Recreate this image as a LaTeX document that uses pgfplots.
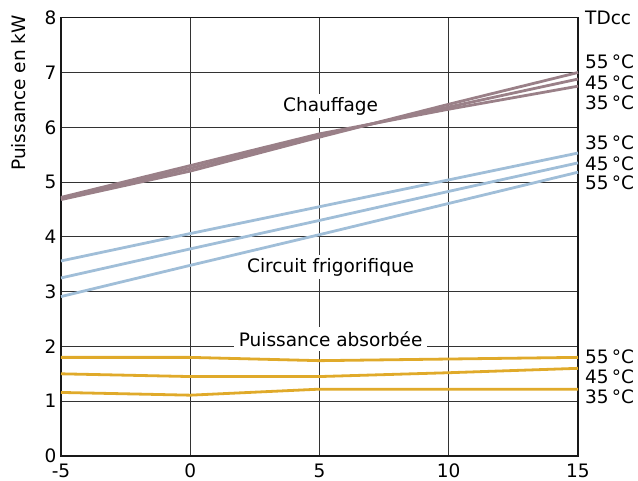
\documentclass[border=0pt]{standalone}
\usepackage{fontspec}
\setmainfont{DejaVu Sans}
\usepackage{pgfplots}
\pgfplotsset{compat=1.18}
\definecolor{heat}{HTML}{9A8088}
\definecolor{cool}{HTML}{A0BED8}
\definecolor{pow}{HTML}{E0AA2A}
\begin{document}
\begin{tikzpicture}
\begin{axis}[
  scale only axis, width=517pt, height=438.3pt,
  xmin=-5, xmax=15, ymin=0, ymax=8,
  xtick={-5,0,5,10,15}, ytick={0,1,...,8},
  grid=major,
  major grid style={black!80, line width=0.8pt},
  axis line style={black!90, line width=1.3pt},
  major tick length=0pt,
  clip=false,
  font=\fontsize{18.5}{22}\selectfont,
  /pgf/number format/assume math mode=true,
  xticklabel style={yshift=-4pt},
  yticklabel style={xshift=-1pt},
  every axis plot/.append style={line width=2.8pt, line join=round},
]
\coordinate (SW) at (rel axis cs:0,0);
\node[xshift=-42pt, rotate=90] at (rel axis cs:0,0.828) {Puissance en kW};
% labels with white background
\node[fill=white, inner xsep=5pt, inner ysep=3pt] at (axis cs:5.43,6.39) {Chauffage};
\node[fill=white, inner xsep=5pt, inner ysep=3pt] at (axis cs:5.43,3.45) {Circuit frigorifique};
\node[fill=white, inner xsep=5pt, inner ysep=4pt] at (axis cs:5.43,2.135) {Puissance absorbée};
% heating
\addplot[heat] coordinates {(-5,4.72) (0,5.30) (5,5.88) (10,6.33) (15,6.75)};
\addplot[heat] coordinates {(-5,4.70) (0,5.25) (5,5.85) (10,6.37) (15,6.88)};
\addplot[heat] coordinates {(-5,4.68) (0,5.20) (5,5.82) (10,6.42) (15,7.00)};
% cooling circuit
\addplot[cool] coordinates {(-5,3.56) (0,4.06) (5,4.55) (10,5.04) (15,5.53)};
\addplot[cool] coordinates {(-5,3.25) (0,3.78) (5,4.30) (10,4.83) (15,5.35)};
\addplot[cool] coordinates {(-5,2.91) (0,3.48) (5,4.04) (10,4.61) (15,5.18)};
% absorbed power
\addplot[pow] coordinates {(-5,1.80) (0,1.80) (5,1.74) (10,1.77) (15,1.80)};
\addplot[pow] coordinates {(-5,1.50) (0,1.45) (5,1.45) (10,1.52) (15,1.60)};
\addplot[pow] coordinates {(-5,1.16) (0,1.11) (5,1.22) (10,1.22) (15,1.22)};
% right labels
\begin{scope}[every node/.style={anchor=west, inner sep=0pt, xshift=7pt}]
\node at (axis cs:15,7.99) {TDcc};
\node at (axis cs:15,7.195) {55\,°C};
\node at (axis cs:15,6.81) {45\,°C};
\node at (axis cs:15,6.44) {35\,°C};
\node at (axis cs:15,5.72) {35\,°C};
\node at (axis cs:15,5.34) {45\,°C};
\node at (axis cs:15,4.98) {55\,°C};
\node at (axis cs:15,1.81) {55\,°C};
\node at (axis cs:15,1.44) {45\,°C};
\node at (axis cs:15,1.08) {35\,°C};
\end{scope}
\end{axis}
\pgfresetboundingbox
\path[shift={(SW)}] (-61pt,-25pt) rectangle (577pt,456pt);
\end{tikzpicture}
\end{document}
